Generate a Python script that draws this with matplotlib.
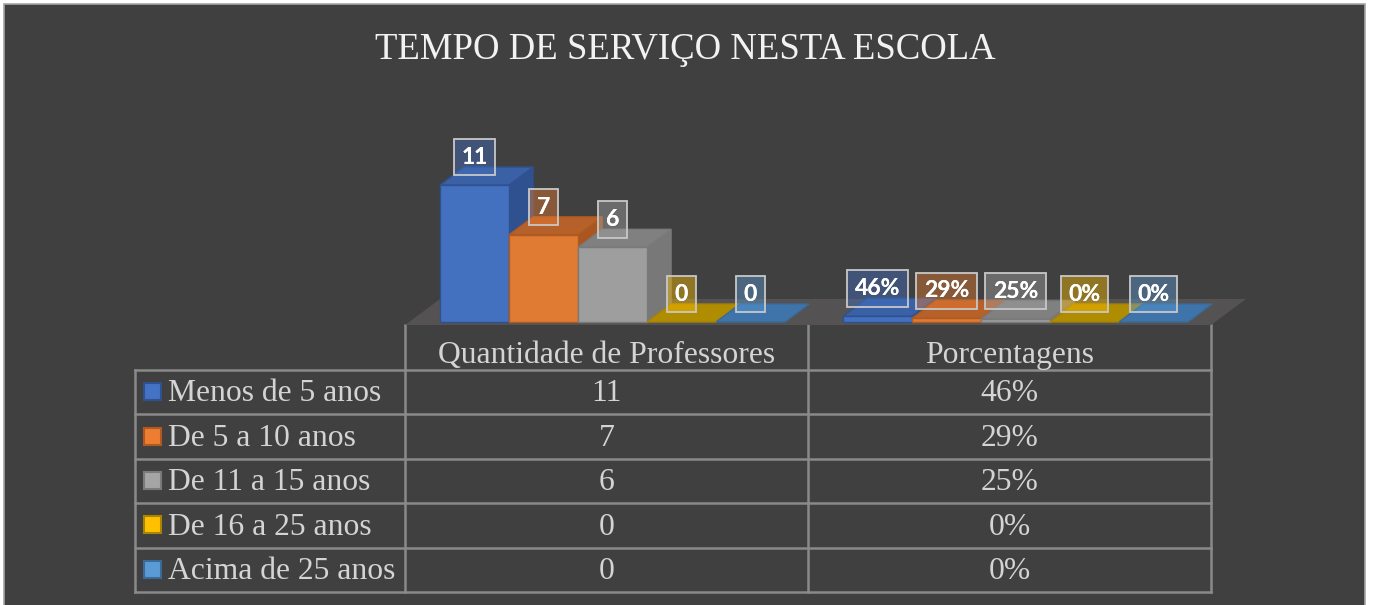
import matplotlib
matplotlib.use("Agg")
import matplotlib.pyplot as plt
from matplotlib.patches import Rectangle, Polygon

# data
title = "TEMPO DE SERVIÇO NESTA ESCOLA"
columns = ["Quantidade de Professores", "Porcentagens"]
series = ["Menos de 5 anos", "De 5 a 10 anos", "De 11 a 15 anos",
          "De 16 a 25 anos", "Acima de 25 anos"]
quantidade = [11, 7, 6, 0, 0]
porcentagem = [0.46, 0.29, 0.25, 0.0, 0.0]

# colours: front, top, side, edge
front_c = ["#4470c0", "#e07b33", "#9e9e9e", "#c09400", "#4a80b8"]
top_c = ["#3a60a6", "#b7612a", "#808080", "#b08c00", "#3f74ab"]
side_c = ["#2f5190", "#a95620", "#787878", "#9a7a00", "#35628f"]
edge_c = ["#2f528f", "#ae5a21", "#7a7a7a", "#a88400", "#3a6a98"]
key_c = ["#4472c4", "#ed7d31", "#a5a5a5", "#ffc000", "#5b9bd5"]

W, H = 1373, 605
fig = plt.figure(figsize=(W / 100, H / 100), dpi=100)
fig.patch.set_facecolor("white")

# full-figure overlay in pixel units for frame + table
tab = fig.add_axes([0, 0, 1, 1])
tab.set_xlim(0, W)
tab.set_ylim(H, 0)
tab.axis("off")
tab.add_patch(Rectangle((4, 4), 1361, 605, facecolor="#404040",
                        edgecolor="#a6a6a6", lw=1.2))

tab.text(685, 59, title, ha="center", va="baseline", fontsize=26.5,
         family="Liberation Serif", color="#f2f2f2")

# chart axes: x in category units, y in values
base_px, ppu = 322, 12.45
x0, x1 = 405, 1211
top_px = 100
ax = fig.add_axes([x0 / W, (H - base_px) / H, (x1 - x0) / W, (base_px - top_px) / H])
ax.set_xlim(0, 2)
ax.set_ylim(0, (base_px - top_px) / ppu)
ax.axis("off")
ax.patch.set_alpha(0)

cat_px = (x1 - x0) / 2
w = 69 / cat_px
off = 0.087
ddx, ddy = 24 / cat_px, 18 / ppu

# floor
fy0 = -3 / ppu
fy1 = (base_px - 299) / ppu
fdx = 35 / cat_px
ax.add_patch(Polygon([(0, fy0), (2, fy0), (2 + fdx, fy1), (fdx, fy1)],
                     closed=True, facecolor="#545252", edgecolor="none",
                     zorder=1, clip_on=False))

z = 2
for g, vals in enumerate([quantidade, porcentagem]):
    for i, v in enumerate(vals):
        left = g + off + i * w
        if v > 0:
            ax.add_patch(Polygon([(left + w, 0), (left + w + ddx, ddy),
                                  (left + w + ddx, v + ddy), (left + w, v)],
                                 closed=True, facecolor=side_c[i],
                                 edgecolor=edge_c[i], lw=1, zorder=z, clip_on=False))
        ax.add_patch(Polygon([(left, v), (left + w, v), (left + w + ddx, v + ddy),
                              (left + ddx, v + ddy)],
                             closed=True, facecolor=top_c[i], edgecolor=edge_c[i],
                             lw=1, zorder=z, clip_on=False))
        if v > 0:
            ax.bar(left, v, width=w, align="edge", color=front_c[i],
                   edgecolor=edge_c[i], lw=1, zorder=z + 0.5, clip_on=False)
        z += 1

# data labels
lab_kw = dict(textcoords="offset points", ha="center", va="center",
              fontsize=16.5, fontweight="bold", family="Lato", color="white")
for g, vals in enumerate([quantidade, porcentagem]):
    for i, v in enumerate(vals):
        left = g + off + i * w
        lab = str(v) if g == 0 else f"{round(v * 100)}%"
        ax.annotate(lab, (left + w / 2, v), xytext=(0, 20), zorder=50,
                    bbox=dict(boxstyle="square,pad=0.33", facecolor=key_c[i],
                              alpha=0.42, edgecolor="none"), **lab_kw)
        ax.annotate(lab, (left + w / 2, v), xytext=(0, 20), zorder=51,
                    bbox=dict(boxstyle="square,pad=0.33", facecolor="none",
                              edgecolor="#c8c8c8", lw=1.3), **lab_kw)

# data table
line_c = "#8a8a8a"
row_y = [370 + k * 44.4 for k in range(len(series) + 1)]
col_x = [135, 405, 808, 1211]
for y in row_y:
    tab.plot([col_x[0], col_x[-1]], [y, y], color=line_c, lw=1.8, zorder=3)
tab.plot([col_x[0], col_x[0]], [row_y[0], row_y[-1]], color=line_c, lw=1.8, zorder=3)
for x in col_x[1:]:
    tab.plot([x, x], [325, row_y[-1]], color=line_c, lw=1.8, zorder=3)

txt_c = "#d4d4d4"
tfont = dict(family="Liberation Serif", fontsize=22.8, color=txt_c)
for j, name in enumerate(columns):
    tab.text((col_x[j + 1] + col_x[j + 2]) / 2, 363, name, ha="center",
             va="baseline", **tfont)
for i, name in enumerate(series):
    yb = row_y[i + 1] - 13
    yc = (row_y[i] + row_y[i + 1]) / 2
    tab.add_patch(Rectangle((143.5, yc - 9), 17, 17, facecolor=key_c[i],
                            edgecolor=edge_c[i], lw=1.5, zorder=4))
    tab.text(168, yb, name, ha="left", va="baseline", **tfont)
    tab.text((col_x[1] + col_x[2]) / 2, yb, str(quantidade[i]), ha="center",
             va="baseline", **tfont)
    tab.text((col_x[2] + col_x[3]) / 2, yb, f"{round(porcentagem[i] * 100)}%",
             ha="center", va="baseline", **tfont)

fig.savefig("out.png", dpi=100, facecolor=fig.get_facecolor())
